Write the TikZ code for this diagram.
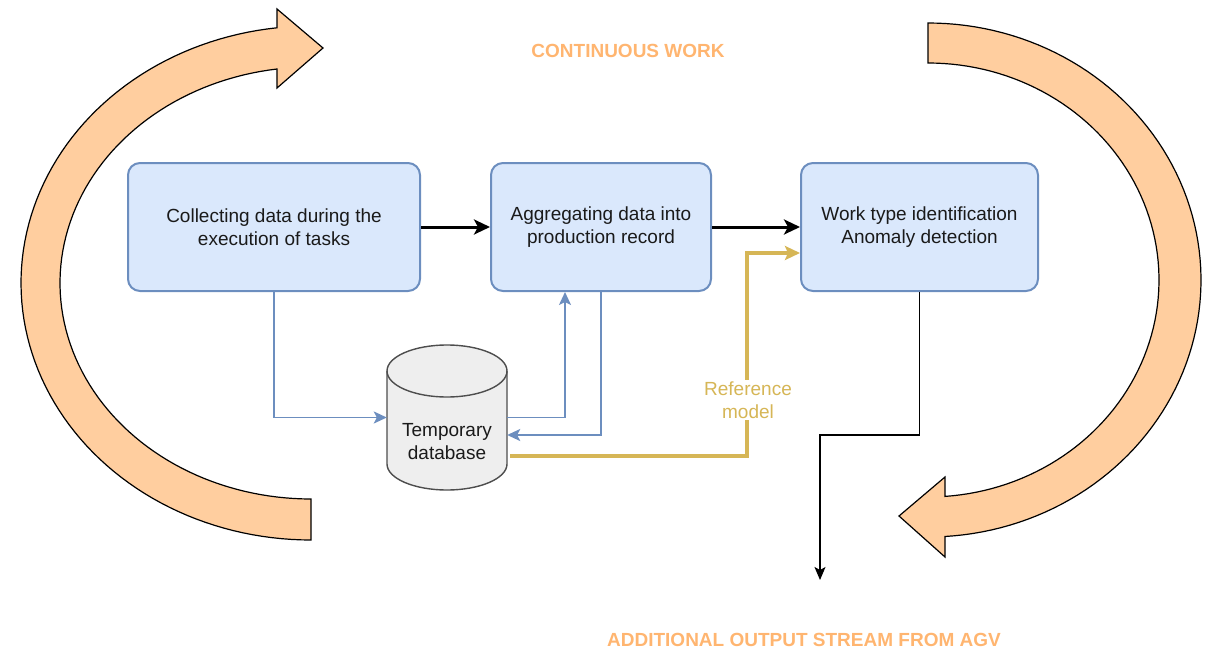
\documentclass[tikz,border=0pt]{standalone}
\usepackage{fontspec}
\setmainfont{Liberation Sans}
\usetikzlibrary{arrows.meta,calc}
\definecolor{boxfill}{HTML}{DAE8FC}
\definecolor{boxline}{HTML}{6C8EBF}
\definecolor{arrowfill}{HTML}{FFCE9F}
\definecolor{titlecol}{HTML}{FFB570}
\definecolor{goldcol}{HTML}{D6B656}
\definecolor{cylfill}{HTML}{EEEEEE}
\definecolor{cylline}{HTML}{4D4D4D}
\definecolor{txtcol}{HTML}{1A1A1A}
\begin{document}
\begin{tikzpicture}[x=1pt,y=-1pt,
  procbox/.style={draw=boxline, fill=boxfill, line width=2pt, rounded corners=12pt,
    minimum height=128pt, inner sep=0pt, align=center, text=txtcol,
    font=\fontsize{19}{23.5}\selectfont},
  titletext/.style={text=titlecol, font=\fontsize{19}{22}\selectfont\bfseries, inner sep=0pt},
  bigarrow/.style={fill=arrowfill, draw=black, line width=1.2pt, line join=miter},
  mainflow/.style={draw=black, line width=3pt, -{Stealth[length=16pt,width=15pt,inset=4pt]}},
  blueflow/.style={draw=boxline, line width=1.7pt, -{Stealth[length=13pt,width=12pt,inset=3pt]}},
  goldflow/.style={draw=goldcol, line width=3.2pt, -{Stealth[length=15pt,width=14pt,inset=3pt]}},
  outflow/.style={draw=black, line width=1.5pt, -{Stealth[length=13pt,width=11pt,inset=3pt]}},
  cyl/.style={fill=cylfill, draw=cylline, line width=1.4pt}
]
\useasboundingbox (0,0) rectangle (1212,650);

% big curved arrows
\filldraw[bigarrow] plot[domain=270:96.73,samples=90] ({311+290*cos(\x)},{283-257*sin(\x)})
  -- (277,9) -- (323,48) -- (277,88)
  -- plot[domain=97.79:270,samples=90] ({311+251*cos(\x)},{283-216*sin(\x)}) -- cycle;
\filldraw[bigarrow] plot[domain=90:-86.43,samples=90] ({928+273*cos(\x)},{280-257*sin(\x)})
  -- (945,557) -- (899,516) -- (945,477)
  -- plot[domain=-85.78:90,samples=90] ({928+231*cos(\x)},{280-217*sin(\x)}) -- cycle;

% titles
\node[titletext] (cw) at (628,51) {CONTINUOUS WORK};
\node[titletext] (aos) at (804,640) {ADDITIONAL OUTPUT STREAM FROM AGV};

% process boxes
\node[procbox, minimum width=292pt] (b1) at (274,227) {Collecting data during the\\execution of tasks};
\node[procbox, minimum width=220pt] (b2) at (601,227) {Aggregating data into\\production record};
\node[procbox, minimum width=237pt] (b3) at (919.5,227) {Work type identification\\Anomaly detection};

% cylinder (temporary database)
\node[minimum width=120pt, minimum height=145pt, inner sep=0pt] (db) at (447,417.5) {};
\filldraw[cyl] (387,371) -- (387,464) arc[start angle=180,end angle=0,x radius=60,y radius=26]
  -- (507,371) arc[start angle=0,end angle=-180,x radius=60,y radius=26] -- cycle;
\draw[cyl, fill=none] (387,371) arc[start angle=180,end angle=0,x radius=60,y radius=26];
\node[text=txtcol, align=center, inner sep=0pt, font=\fontsize{19}{23}\selectfont] (dbtext) at (447,442) {Temporary\\database};

% main flow
\draw[mainflow] (b1.east) -- (b2.west);
\draw[mainflow] (b2.east) -- (b3.west);

% blue connectors
\draw[blueflow] (b1.south) |- (db.west);
\draw[blueflow] (db.east) -| ($(b2.south)+(-36,0)$);
\draw[blueflow] (b2.south) |- ($(db.east)+(0,17.5)$);

% gold connector
\coordinate (gstart) at ($(db.east)+(3,38.5)$);
\coordinate (gend) at ($(b3.west)+(0,26)$);
\coordinate (gturn) at ($(b3.west)+(-53,26)$);
\draw[goldflow] (gstart) -| (gturn) -- (gend);
\node[fill=white, text=goldcol, align=center, inner sep=2pt, font=\fontsize{19}{23}\selectfont] (ref) at (748,400) {Reference\\model};

% output stream
\coordinate (oturn) at (820,435);
\coordinate (oend) at (820,580);
\draw[outflow] (b3.south) |- (oturn) -- (oend);

\end{tikzpicture}
\end{document}
